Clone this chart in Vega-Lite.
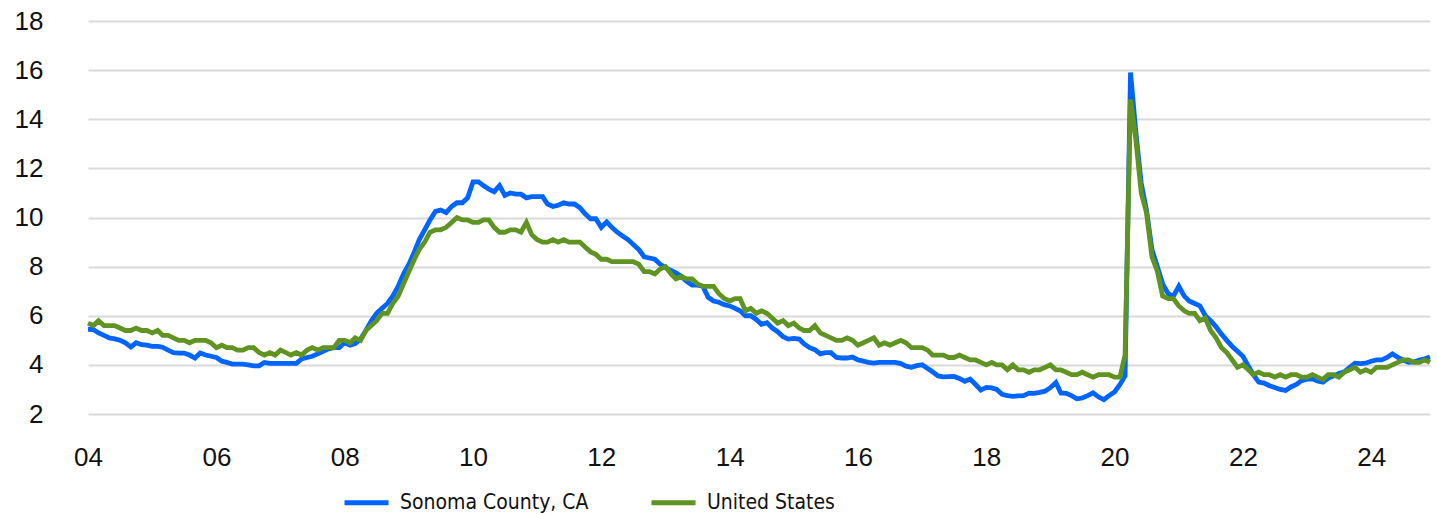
{
"$schema":"https://vega.github.io/schema/vega-lite/v6.json",
"autosize":{"type":"none"},
"padding":{"left":88,"top":21,"right":7,"bottom":100},
"width":1342,"height":393,
"config":{"view":{"stroke":null},"background":"#ffffff"},
"data":{"values":[
{"date":"2004-01","sonoma":5.45,"us":5.7},{"date":"2004-02","sonoma":5.44,"us":5.6},{"date":"2004-03","sonoma":5.3,"us":5.8},{"date":"2004-04","sonoma":5.2,"us":5.6},{"date":"2004-05","sonoma":5.1,"us":5.6},{"date":"2004-06","sonoma":5.06,"us":5.6},{"date":"2004-07","sonoma":5.0,"us":5.5},{"date":"2004-08","sonoma":4.9,"us":5.4},{"date":"2004-09","sonoma":4.73,"us":5.4},{"date":"2004-10","sonoma":4.9,"us":5.5},{"date":"2004-11","sonoma":4.82,"us":5.4},{"date":"2004-12","sonoma":4.8,"us":5.4},
{"date":"2005-01","sonoma":4.75,"us":5.3},{"date":"2005-02","sonoma":4.75,"us":5.4},{"date":"2005-03","sonoma":4.72,"us":5.2},{"date":"2005-04","sonoma":4.6,"us":5.2},{"date":"2005-05","sonoma":4.5,"us":5.1},{"date":"2005-06","sonoma":4.48,"us":5.0},{"date":"2005-07","sonoma":4.48,"us":5.0},{"date":"2005-08","sonoma":4.4,"us":4.9},{"date":"2005-09","sonoma":4.28,"us":5.0},{"date":"2005-10","sonoma":4.48,"us":5.0},{"date":"2005-11","sonoma":4.4,"us":5.0},{"date":"2005-12","sonoma":4.35,"us":4.9},
{"date":"2006-01","sonoma":4.3,"us":4.7},{"date":"2006-02","sonoma":4.15,"us":4.8},{"date":"2006-03","sonoma":4.1,"us":4.7},{"date":"2006-04","sonoma":4.03,"us":4.7},{"date":"2006-05","sonoma":4.03,"us":4.6},{"date":"2006-06","sonoma":4.03,"us":4.6},{"date":"2006-07","sonoma":4.0,"us":4.7},{"date":"2006-08","sonoma":3.96,"us":4.7},{"date":"2006-09","sonoma":3.96,"us":4.5},{"date":"2006-10","sonoma":4.1,"us":4.4},{"date":"2006-11","sonoma":4.06,"us":4.5},{"date":"2006-12","sonoma":4.06,"us":4.4},
{"date":"2007-01","sonoma":4.06,"us":4.6},{"date":"2007-02","sonoma":4.06,"us":4.5},{"date":"2007-03","sonoma":4.06,"us":4.4},{"date":"2007-04","sonoma":4.06,"us":4.5},{"date":"2007-05","sonoma":4.24,"us":4.4},{"date":"2007-06","sonoma":4.3,"us":4.6},{"date":"2007-07","sonoma":4.35,"us":4.7},{"date":"2007-08","sonoma":4.45,"us":4.6},{"date":"2007-09","sonoma":4.55,"us":4.7},{"date":"2007-10","sonoma":4.65,"us":4.7},{"date":"2007-11","sonoma":4.7,"us":4.7},{"date":"2007-12","sonoma":4.7,"us":5.0},
{"date":"2008-01","sonoma":4.9,"us":5.0},{"date":"2008-02","sonoma":4.8,"us":4.9},{"date":"2008-03","sonoma":4.87,"us":5.1},{"date":"2008-04","sonoma":5.05,"us":5.0},{"date":"2008-05","sonoma":5.4,"us":5.4},{"date":"2008-06","sonoma":5.8,"us":5.6},{"date":"2008-07","sonoma":6.1,"us":5.8},{"date":"2008-08","sonoma":6.3,"us":6.1},{"date":"2008-09","sonoma":6.5,"us":6.1},{"date":"2008-10","sonoma":6.8,"us":6.5},{"date":"2008-11","sonoma":7.2,"us":6.8},{"date":"2008-12","sonoma":7.7,"us":7.3},
{"date":"2009-01","sonoma":8.1,"us":7.8},{"date":"2009-02","sonoma":8.6,"us":8.3},{"date":"2009-03","sonoma":9.1,"us":8.7},{"date":"2009-04","sonoma":9.5,"us":9.0},{"date":"2009-05","sonoma":9.9,"us":9.4},{"date":"2009-06","sonoma":10.25,"us":9.5},{"date":"2009-07","sonoma":10.3,"us":9.5},{"date":"2009-08","sonoma":10.2,"us":9.6},{"date":"2009-09","sonoma":10.45,"us":9.8},{"date":"2009-10","sonoma":10.6,"us":10.0},{"date":"2009-11","sonoma":10.6,"us":9.9},{"date":"2009-12","sonoma":10.8,"us":9.9},
{"date":"2010-01","sonoma":11.45,"us":9.8},{"date":"2010-02","sonoma":11.45,"us":9.8},{"date":"2010-03","sonoma":11.3,"us":9.9},{"date":"2010-04","sonoma":11.15,"us":9.9},{"date":"2010-05","sonoma":11.05,"us":9.6},{"date":"2010-06","sonoma":11.3,"us":9.4},{"date":"2010-07","sonoma":10.9,"us":9.4},{"date":"2010-08","sonoma":11.0,"us":9.5},{"date":"2010-09","sonoma":10.95,"us":9.5},{"date":"2010-10","sonoma":10.95,"us":9.4},{"date":"2010-11","sonoma":10.8,"us":9.8},{"date":"2010-12","sonoma":10.85,"us":9.3},
{"date":"2011-01","sonoma":10.85,"us":9.1},{"date":"2011-02","sonoma":10.85,"us":9.0},{"date":"2011-03","sonoma":10.55,"us":9.0},{"date":"2011-04","sonoma":10.45,"us":9.1},{"date":"2011-05","sonoma":10.5,"us":9.0},{"date":"2011-06","sonoma":10.6,"us":9.1},{"date":"2011-07","sonoma":10.55,"us":9.0},{"date":"2011-08","sonoma":10.55,"us":9.0},{"date":"2011-09","sonoma":10.4,"us":9.0},{"date":"2011-10","sonoma":10.15,"us":8.8},{"date":"2011-11","sonoma":9.95,"us":8.6},{"date":"2011-12","sonoma":9.95,"us":8.5},
{"date":"2012-01","sonoma":9.6,"us":8.3},{"date":"2012-02","sonoma":9.82,"us":8.3},{"date":"2012-03","sonoma":9.6,"us":8.2},{"date":"2012-04","sonoma":9.4,"us":8.2},{"date":"2012-05","sonoma":9.25,"us":8.2},{"date":"2012-06","sonoma":9.1,"us":8.2},{"date":"2012-07","sonoma":8.9,"us":8.2},{"date":"2012-08","sonoma":8.7,"us":8.1},{"date":"2012-09","sonoma":8.4,"us":7.8},{"date":"2012-10","sonoma":8.35,"us":7.8},{"date":"2012-11","sonoma":8.3,"us":7.7},{"date":"2012-12","sonoma":8.1,"us":7.9},
{"date":"2013-01","sonoma":7.95,"us":8.0},{"date":"2013-02","sonoma":7.85,"us":7.7},{"date":"2013-03","sonoma":7.75,"us":7.5},{"date":"2013-04","sonoma":7.6,"us":7.6},{"date":"2013-05","sonoma":7.4,"us":7.5},{"date":"2013-06","sonoma":7.25,"us":7.5},{"date":"2013-07","sonoma":7.25,"us":7.3},{"date":"2013-08","sonoma":7.2,"us":7.2},{"date":"2013-09","sonoma":6.75,"us":7.2},{"date":"2013-10","sonoma":6.6,"us":7.2},{"date":"2013-11","sonoma":6.55,"us":6.9},{"date":"2013-12","sonoma":6.45,"us":6.7},
{"date":"2014-01","sonoma":6.4,"us":6.6},{"date":"2014-02","sonoma":6.3,"us":6.7},{"date":"2014-03","sonoma":6.2,"us":6.7},{"date":"2014-04","sonoma":6.0,"us":6.2},{"date":"2014-05","sonoma":6.0,"us":6.3},{"date":"2014-06","sonoma":5.85,"us":6.1},{"date":"2014-07","sonoma":5.65,"us":6.2},{"date":"2014-08","sonoma":5.72,"us":6.1},{"date":"2014-09","sonoma":5.5,"us":5.9},{"date":"2014-10","sonoma":5.35,"us":5.7},{"date":"2014-11","sonoma":5.15,"us":5.8},{"date":"2014-12","sonoma":5.05,"us":5.6},
{"date":"2015-01","sonoma":5.08,"us":5.7},{"date":"2015-02","sonoma":5.05,"us":5.5},{"date":"2015-03","sonoma":4.85,"us":5.4},{"date":"2015-04","sonoma":4.7,"us":5.4},{"date":"2015-05","sonoma":4.62,"us":5.6},{"date":"2015-06","sonoma":4.45,"us":5.3},{"date":"2015-07","sonoma":4.5,"us":5.2},{"date":"2015-08","sonoma":4.5,"us":5.1},{"date":"2015-09","sonoma":4.3,"us":5.0},{"date":"2015-10","sonoma":4.28,"us":5.0},{"date":"2015-11","sonoma":4.28,"us":5.1},{"date":"2015-12","sonoma":4.32,"us":5.0},
{"date":"2016-01","sonoma":4.2,"us":4.8},{"date":"2016-02","sonoma":4.15,"us":4.9},{"date":"2016-03","sonoma":4.1,"us":5.0},{"date":"2016-04","sonoma":4.07,"us":5.1},{"date":"2016-05","sonoma":4.1,"us":4.8},{"date":"2016-06","sonoma":4.1,"us":4.9},{"date":"2016-07","sonoma":4.1,"us":4.8},{"date":"2016-08","sonoma":4.1,"us":4.9},{"date":"2016-09","sonoma":4.05,"us":5.0},{"date":"2016-10","sonoma":3.95,"us":4.9},{"date":"2016-11","sonoma":3.9,"us":4.7},{"date":"2016-12","sonoma":3.97,"us":4.7},
{"date":"2017-01","sonoma":4.0,"us":4.7},{"date":"2017-02","sonoma":3.85,"us":4.6},{"date":"2017-03","sonoma":3.72,"us":4.4},{"date":"2017-04","sonoma":3.55,"us":4.4},{"date":"2017-05","sonoma":3.51,"us":4.4},{"date":"2017-06","sonoma":3.52,"us":4.3},{"date":"2017-07","sonoma":3.53,"us":4.3},{"date":"2017-08","sonoma":3.45,"us":4.4},{"date":"2017-09","sonoma":3.33,"us":4.3},{"date":"2017-10","sonoma":3.42,"us":4.2},{"date":"2017-11","sonoma":3.2,"us":4.2},{"date":"2017-12","sonoma":2.97,"us":4.1},
{"date":"2018-01","sonoma":3.08,"us":4.0},{"date":"2018-02","sonoma":3.06,"us":4.1},{"date":"2018-03","sonoma":3.0,"us":4.0},{"date":"2018-04","sonoma":2.8,"us":4.0},{"date":"2018-05","sonoma":2.75,"us":3.8},{"date":"2018-06","sonoma":2.72,"us":4.0},{"date":"2018-07","sonoma":2.74,"us":3.8},{"date":"2018-08","sonoma":2.75,"us":3.8},{"date":"2018-09","sonoma":2.85,"us":3.7},{"date":"2018-10","sonoma":2.84,"us":3.8},{"date":"2018-11","sonoma":2.88,"us":3.8},{"date":"2018-12","sonoma":2.93,"us":3.9},
{"date":"2019-01","sonoma":3.07,"us":4.0},{"date":"2019-02","sonoma":3.28,"us":3.8},{"date":"2019-03","sonoma":2.86,"us":3.8},{"date":"2019-04","sonoma":2.84,"us":3.7},{"date":"2019-05","sonoma":2.75,"us":3.6},{"date":"2019-06","sonoma":2.62,"us":3.6},{"date":"2019-07","sonoma":2.65,"us":3.7},{"date":"2019-08","sonoma":2.75,"us":3.6},{"date":"2019-09","sonoma":2.86,"us":3.5},{"date":"2019-10","sonoma":2.7,"us":3.6},{"date":"2019-11","sonoma":2.58,"us":3.6},{"date":"2019-12","sonoma":2.75,"us":3.6},
{"date":"2020-01","sonoma":2.9,"us":3.5},{"date":"2020-02","sonoma":3.2,"us":3.5},{"date":"2020-03","sonoma":3.55,"us":4.4},{"date":"2020-04","sonoma":15.9,"us":14.8},{"date":"2020-05","sonoma":13.5,"us":13.2},{"date":"2020-06","sonoma":11.4,"us":11.0},{"date":"2020-07","sonoma":10.3,"us":10.2},{"date":"2020-08","sonoma":8.7,"us":8.4},{"date":"2020-09","sonoma":8.0,"us":7.8},{"date":"2020-10","sonoma":7.3,"us":6.8},{"date":"2020-11","sonoma":6.9,"us":6.7},{"date":"2020-12","sonoma":6.8,"us":6.7},
{"date":"2021-01","sonoma":7.2,"us":6.4},{"date":"2021-02","sonoma":6.8,"us":6.2},{"date":"2021-03","sonoma":6.6,"us":6.1},{"date":"2021-04","sonoma":6.5,"us":6.1},{"date":"2021-05","sonoma":6.4,"us":5.8},{"date":"2021-06","sonoma":6.0,"us":5.9},{"date":"2021-07","sonoma":5.8,"us":5.4},{"date":"2021-08","sonoma":5.55,"us":5.1},{"date":"2021-09","sonoma":5.25,"us":4.7},{"date":"2021-10","sonoma":5.0,"us":4.5},{"date":"2021-11","sonoma":4.75,"us":4.2},{"date":"2021-12","sonoma":4.55,"us":3.9},
{"date":"2022-01","sonoma":4.35,"us":4.0},{"date":"2022-02","sonoma":3.95,"us":3.8},{"date":"2022-03","sonoma":3.6,"us":3.6},{"date":"2022-04","sonoma":3.3,"us":3.7},{"date":"2022-05","sonoma":3.26,"us":3.6},{"date":"2022-06","sonoma":3.15,"us":3.6},{"date":"2022-07","sonoma":3.08,"us":3.5},{"date":"2022-08","sonoma":3.0,"us":3.6},{"date":"2022-09","sonoma":2.96,"us":3.5},{"date":"2022-10","sonoma":3.1,"us":3.6},{"date":"2022-11","sonoma":3.2,"us":3.6},{"date":"2022-12","sonoma":3.36,"us":3.5},
{"date":"2023-01","sonoma":3.42,"us":3.5},{"date":"2023-02","sonoma":3.43,"us":3.6},{"date":"2023-03","sonoma":3.35,"us":3.5},{"date":"2023-04","sonoma":3.3,"us":3.4},{"date":"2023-05","sonoma":3.45,"us":3.6},{"date":"2023-06","sonoma":3.55,"us":3.6},{"date":"2023-07","sonoma":3.65,"us":3.5},{"date":"2023-08","sonoma":3.72,"us":3.7},{"date":"2023-09","sonoma":3.9,"us":3.8},{"date":"2023-10","sonoma":4.07,"us":3.9},{"date":"2023-11","sonoma":4.05,"us":3.7},{"date":"2023-12","sonoma":4.07,"us":3.8},
{"date":"2024-01","sonoma":4.15,"us":3.7},{"date":"2024-02","sonoma":4.2,"us":3.9},{"date":"2024-03","sonoma":4.2,"us":3.9},{"date":"2024-04","sonoma":4.3,"us":3.9},{"date":"2024-05","sonoma":4.45,"us":4.0},{"date":"2024-06","sonoma":4.3,"us":4.1},{"date":"2024-07","sonoma":4.2,"us":4.2},{"date":"2024-08","sonoma":4.1,"us":4.2},{"date":"2024-09","sonoma":4.12,"us":4.1},{"date":"2024-10","sonoma":4.2,"us":4.1},{"date":"2024-11","sonoma":4.25,"us":4.2},{"date":"2024-12","sonoma":4.32,"us":4.1}
]},
"encoding":{
"x":{"field":"date","type":"temporal","title":null,
"scale":{"domain":["2004-01","2024-12"],"nice":false},
"axis":{"values":["2004-01","2006-01","2008-01","2010-01","2012-01","2014-01","2016-01","2018-01","2020-01","2022-01","2024-01"],
"labelExpr":"utcFormat(datum.value, '%y')","grid":false,"domain":false,"ticks":false,"tickSize":0,"labelPadding":30,
"labelFont":"Liberation Sans","labelFontSize":26,"labelColor":"#111111","labelAngle":0,"labelOverlap":false,"labelFlush":false}}
},
"layer":[
{"mark":{"type":"line","strokeWidth":4.8,"strokeJoin":"miter"},
"encoding":{"y":{"field":"sonoma","type":"quantitative","title":null,
"scale":{"domain":[2,18],"nice":false},
"axis":{"values":[2,4,6,8,10,12,14,16,18],"grid":true,"gridColor":"#d9d9d9","gridWidth":2,"domain":false,"ticks":false,"tickSize":0,"labelPadding":45,
"labelFont":"Liberation Sans","labelFontSize":26,"labelColor":"#111111"}},
"color":{"datum":"Sonoma County, CA","type":"nominal",
"scale":{"domain":["Sonoma County, CA","United States"],"range":["#0064ff","#5f9422"]},
"legend":{"title":null,"orient":"none","legendX":254,"legendY":457,"direction":"horizontal",
"symbolType":"stroke","symbolSize":1936,"symbolStrokeWidth":5,"labelOffset":9,"columnPadding":52,
"labelFont":"DejaVu Sans Condensed","labelFontSize":21,"labelColor":"#111111","labelLimit":400}}}},
{"mark":{"type":"line","strokeWidth":4.8,"strokeJoin":"miter"},
"encoding":{"y":{"field":"us","type":"quantitative"},
"color":{"datum":"United States","type":"nominal"}}}
]
}
